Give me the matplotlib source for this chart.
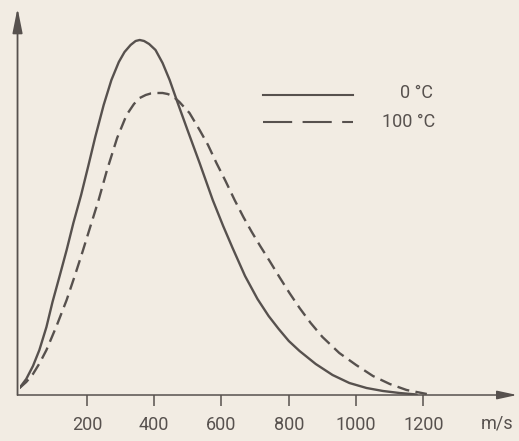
import matplotlib.pyplot as plt

# speeds (m/s) and relative heights
v_0c = [0, 20, 40, 59, 80, 98, 120, 140, 160, 183, 205, 225, 250, 273, 295,
        312, 330, 345, 357, 370, 385, 404, 425, 446, 470, 499, 535, 574, 605,
        633, 670, 707, 740, 770, 800, 832, 880, 930, 980, 1031, 1080, 1129,
        1180]
f_0c = [7, 16, 29, 45, 68, 93, 120, 145, 172, 200, 230, 258, 290, 315, 333,
        343, 350, 354, 355, 354, 351, 345, 332, 315, 292, 265, 232, 195, 169,
        147, 119, 96, 79, 66, 54, 44, 31, 20, 12, 7, 4, 2,
        0.5]

v_100c = [0, 20, 40, 60, 80, 110, 140, 165, 187, 210, 235, 260, 290, 318,
          340, 357, 375, 390, 408, 425, 440, 455, 475, 505, 535, 560, 585,
          612, 639, 665, 690, 715, 743, 772, 802, 832, 865, 900, 950, 1000,
          1050, 1100, 1150, 1210]
f_100c = [7, 13, 21, 32, 45, 69, 95, 120, 143, 168, 195, 225, 257, 280,
          291, 297, 300, 301.5, 302, 302, 301, 299, 293, 282, 265, 250, 232,
          214, 195, 178, 163, 149, 134, 118, 102, 87, 72, 58, 42, 30,
          19, 11, 5, 1]

xticks = [200, 400, 600, 800, 1000, 1200]
labels = ['0 °C', '100 °C']

paper = '#f2ece3'
ink = '#57514e'

plt.rcParams['font.family'] = ['Roboto', 'DejaVu Sans']

fig = plt.figure(figsize=(5.19, 4.41), dpi=100)
fig.patch.set_facecolor(paper)
ax = fig.add_axes([0.0376, 0.1043, 0.9586, 0.8776])
ax.set_facecolor(paper)

ax.plot(v_0c, f_0c, color=ink, lw=1.7, solid_capstyle='round',
        solid_joinstyle='round')
ax.plot(v_100c, f_100c, color=ink, lw=1.7, dashes=(5.2, 2.7))

ax.set_xlim(0, 1478)
ax.set_ylim(0, 387)

for s in ax.spines.values():
    s.set_visible(False)

# axes with arrow heads
ax.annotate('', xy=(-0.004, 1.0), xytext=(-0.004, 0.0), xycoords='axes fraction',
            arrowprops=dict(arrowstyle='-|>,head_length=0.75,head_width=0.15',
                            lw=1.3, color=ink, mutation_scale=20,
                            shrinkA=0, shrinkB=0))
ax.annotate('', xy=(1.0, 0.0), xytext=(-0.004, 0.0), xycoords='axes fraction',
            arrowprops=dict(arrowstyle='-|>,head_length=0.6,head_width=0.13',
                            lw=1.1, color=ink, mutation_scale=20,
                            shrinkA=0, shrinkB=0))

ax.set_xticks(xticks)
ax.set_xticklabels([str(t) for t in xticks], fontsize=13, color=ink)
ax.tick_params(axis='x', direction='out', length=8, width=1.1, color=ink, pad=7)
ax.set_yticks([])
ax.text(1420, -28, 'm/s', fontsize=13, color=ink, ha='center', va='center',
        clip_on=False)

# legend drawn by hand
ax.plot([724, 991], [300, 300], color=ink, lw=1.5)
ax.plot([724, 991], [273, 273], color=ink, lw=1.5, dashes=(14, 5))
ax.text(1229, 302, labels[0], fontsize=13, color=ink, ha='right', va='center')
ax.text(1235, 273, labels[1], fontsize=13, color=ink, ha='right', va='center')

fig.savefig('out.png', dpi=100, facecolor=paper)
